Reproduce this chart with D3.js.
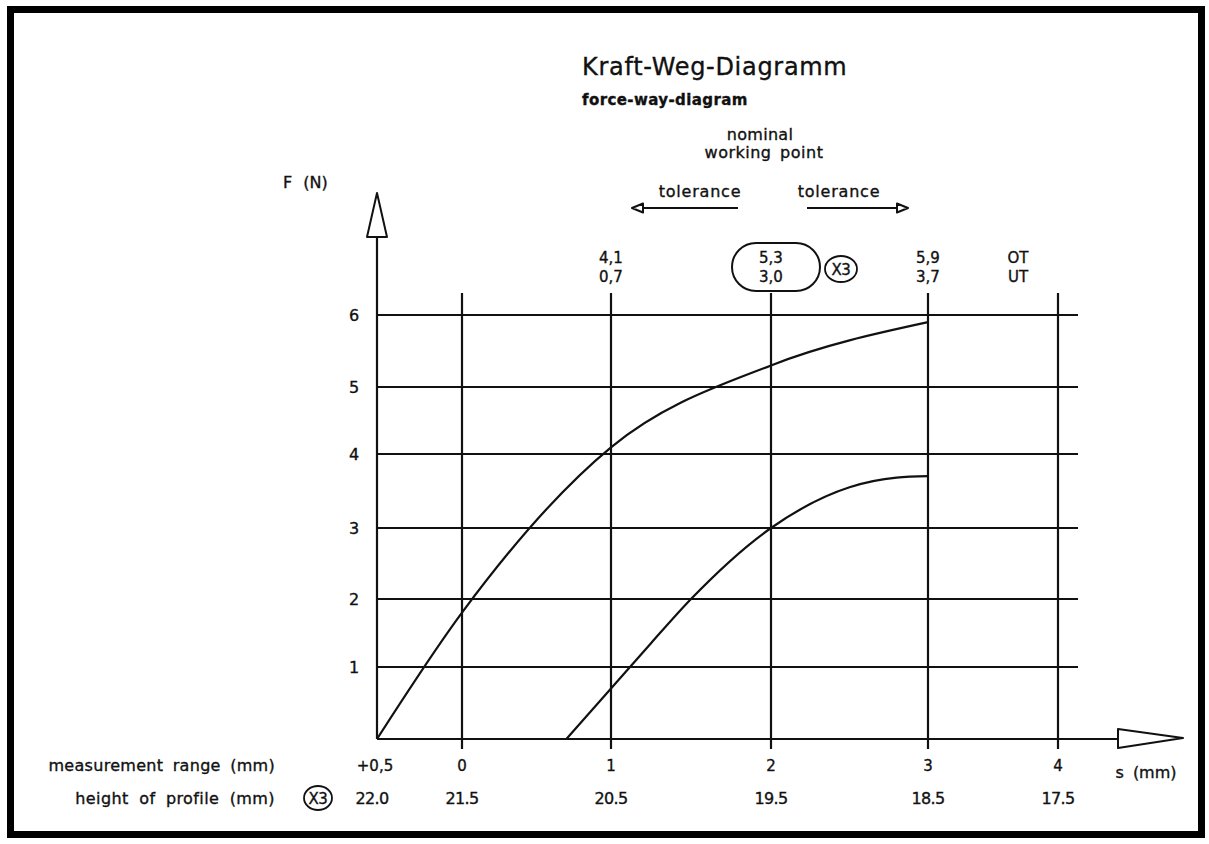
<!DOCTYPE html>
<html>
<head>
<meta charset="utf-8">
<script src="https://cdn.jsdelivr.net/npm/d3@7"></script>
<style>
  html, body { margin: 0; padding: 0; background: #fff; }
  svg { display: block; }
  text { font-family: "DejaVu Sans", sans-serif; fill: #111; stroke: #111; stroke-width: 0.35px; }
</style>
</head>
<body>
<svg id="chart" width="1209" height="844"></svg>
<script>
// Measuring travel s (mm) and its profile height
const sTicks = [-0.5, 0, 1, 2, 3, 4];
const sTickLabels = ["+0,5", "0", "1", "2", "3", "4"];
const profileHeights = ["22.0", "21.5", "20.5", "19.5", "18.5", "17.5"];
const fTicks = [1, 2, 3, 4, 5, 6];

// Force limits at the working points: upper (OT) and lower (UT) curve
const pointS = [1, 2, 3, 4];
const pointUpper = ["4,1", "5,3", "5,9", "OT"];
const pointLower = ["0,7", "3,0", "3,7", "UT"];

// Upper force curve
const upperS = [-0.5, 0, 1, 2, 3];
const upperF = [0, 1.8, 4.1, 5.3, 5.9];
// Lower force curve
const lowerS = [0.7, 1, 1.25, 1.5, 2, 2.5, 2.8, 3];
const lowerF = [0, 0.7, 1.35, 2.0, 3.0, 3.55, 3.68, 3.7];

const svg = d3.select("#chart");
const ink = "#111";
const lw = 2.2;

// drawing scales (hand-drafted grid spacing)
const x = d3.scaleLinear().domain(sTicks).range([377, 462, 611, 771, 928, 1058]);
const y = d3.scaleLinear().domain([0, 1, 2, 3, 4, 5, 6]).range([739, 667, 599, 528, 454, 387, 315]);

function label(xp, yp, str, size, anchor, extra) {
  const t = svg.append("text").attr("x", xp).attr("y", yp).attr("font-size", size)
    .attr("text-anchor", anchor || "start").text(str);
  if (extra) Object.entries(extra).forEach(([k, v]) => t.attr(k, v));
  return t;
}

// frame
svg.append("rect").attr("x", 10.5).attr("y", 9.5).attr("width", 1191).attr("height", 825)
  .attr("fill", "none").attr("stroke", "#000").attr("stroke-width", 7);

// title
label(582, 75, "Kraft-Weg-Diagramm", 24, "start", { "letter-spacing": 0.7, "stroke-width": 0.1 });
label(582, 105, "force-way-diagram", 15, "start", { "font-weight": 600, "stroke-width": 0, "letter-spacing": 0.4 });

// nominal working point + tolerance arrows
label(760, 140, "nominal", 16, "middle", { "letter-spacing": 0.3 });
label(764, 158, "working point", 16, "middle", { "letter-spacing": 0.5, "word-spacing": 3 });
label(700, 197, "tolerance", 16, "middle", { "letter-spacing": 0.8 });
label(839, 197, "tolerance", 16, "middle", { "letter-spacing": 0.8 });

function hArrow(x0, x1, yy, len, half) {
  const dir = Math.sign(x1 - x0);
  const base = x1 - dir * len;
  svg.append("line").attr("x1", x0).attr("x2", base).attr("y1", yy).attr("y2", yy)
    .attr("stroke", ink).attr("stroke-width", lw);
  svg.append("path").attr("d", `M${base},${yy - half}L${x1},${yy}L${base},${yy + half}Z`)
    .attr("fill", "#fff").attr("stroke", ink).attr("stroke-width", 2).attr("stroke-linejoin", "round");
}
hArrow(738, 632, 208, 11, 4.5);
hArrow(807, 908, 208, 11, 4.5);

// grid
const gx = svg.append("g");
fTicks.forEach(f => {
  gx.append("line").attr("x1", x(-0.5)).attr("x2", 1078).attr("y1", y(f)).attr("y2", y(f))
    .attr("stroke", ink).attr("stroke-width", lw);
});
sTicks.slice(1).forEach(s => {
  gx.append("line").attr("x1", x(s)).attr("x2", x(s)).attr("y1", 293).attr("y2", 749)
    .attr("stroke", ink).attr("stroke-width", lw);
});

// axes with hollow arrow heads
svg.append("line").attr("x1", x(-0.5)).attr("x2", x(-0.5)).attr("y1", y(0)).attr("y2", 237)
  .attr("stroke", ink).attr("stroke-width", lw);
svg.append("path").attr("d", `M${x(-0.5) - 10},237L${x(-0.5)},193L${x(-0.5) + 10},237Z`)
  .attr("fill", "#fff").attr("stroke", ink).attr("stroke-width", 2).attr("stroke-linejoin", "round");
svg.append("line").attr("x1", x(-0.5)).attr("x2", 1118).attr("y1", y(0)).attr("y2", y(0))
  .attr("stroke", ink).attr("stroke-width", lw);
svg.append("path").attr("d", `M1118,${y(0) - 10}L1183,${y(0) - 1}L1118,${y(0) + 9}Z`)
  .attr("fill", "#fff").attr("stroke", ink).attr("stroke-width", 2).attr("stroke-linejoin", "round");

// axis titles
label(283, 188, "F  (N)", 16, "start", { "word-spacing": 6 });
label(1146, 778, "s  (mm)", 16, "middle", { "word-spacing": 4 });

// F tick labels
fTicks.forEach(f => label(354, y(f) + 6, f, 16, "middle"));

// s tick labels and profile heights
sTicks.forEach((s, i) => {
  label(x(s) - (i === 0 ? 2 : 0), 771, sTickLabels[i], 15, "middle");
  label(x(s) - (i === 0 ? 5 : 0), 804, profileHeights[i], 16, "middle", { "letter-spacing": -0.6 });
});
label(275, 771, "measurement range (mm)", 16, "end", { "letter-spacing": 0.3, "word-spacing": 4 });
label(275, 804, "height of profile (mm)", 16, "end", { "letter-spacing": 0.4, "word-spacing": 5 });

// circled X3 marker
function x3Mark(cx, cy, rx, ry) {
  svg.append("ellipse").attr("cx", cx).attr("cy", cy).attr("rx", rx).attr("ry", ry)
    .attr("fill", "none").attr("stroke", ink).attr("stroke-width", 1.8);
  label(cx, cy + 6, "X3", 15, "middle", { "letter-spacing": -0.5 });
}
x3Mark(318, 798, 14, 12);

// values at the working points
pointS.forEach((s, i) => {
  const cx = s === 4 ? x(s) - 40 : x(s);
  label(cx, 263, pointUpper[i], 15, "middle");
  label(cx, 282, pointLower[i], 15, "middle");
});
svg.append("rect").attr("x", x(2) - 39).attr("y", 243).attr("width", 88).attr("height", 48).attr("rx", 24)
  .attr("fill", "none").attr("stroke", ink).attr("stroke-width", 2);
x3Mark(x(2) + 70, 269, 16, 13);

// force curves
const line = d3.line().x(d => x(d[0])).y(d => y(d[1])).curve(d3.curveMonotoneX);
[[upperS, upperF], [lowerS, lowerF]].forEach(([ss, ff]) => {
  svg.append("path").attr("d", line(ss.map((s, i) => [s, ff[i]])))
    .attr("fill", "none").attr("stroke", ink).attr("stroke-width", lw);
});
</script>
</body>
</html>
